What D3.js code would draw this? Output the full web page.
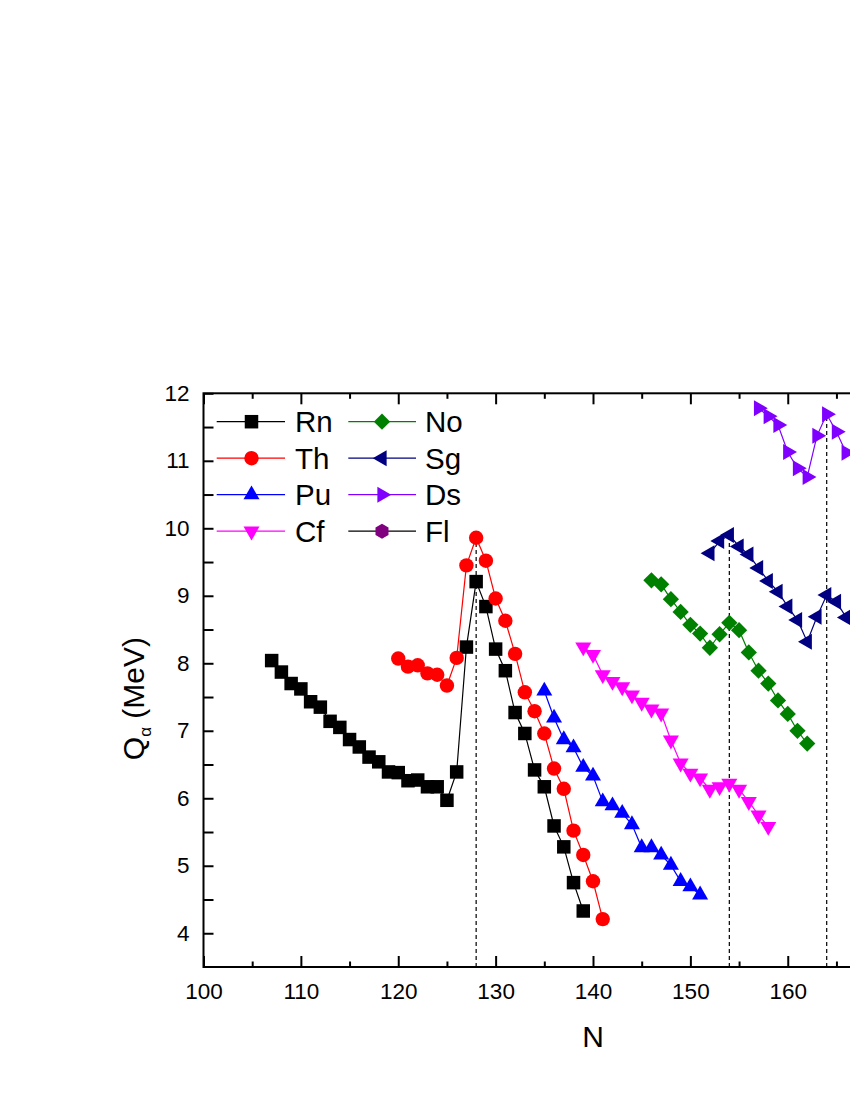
<!DOCTYPE html>
<html>
<head>
<meta charset="utf-8">
<script src="https://cdn.jsdelivr.net/npm/d3@7"></script>
<style>
  html, body { margin: 0; padding: 0; background: #fff; }
  svg { display: block; }
  text { font-family: "Liberation Sans", Arial, sans-serif; fill: #000; }
</style>
</head>
<body>
<svg id="chart" width="850" height="1100"></svg>
<script>
// ---------------- data ----------------
const rnN = [107,108,109,110,111,112,113,114,115,116,117,118,119,120,121,122,123,124,125,126,127,128,129,130,131,132,133,134,135,136,137,138,139];
const rnQ = [8.04,7.87,7.70,7.62,7.43,7.35,7.14,7.05,6.87,6.76,6.61,6.54,6.39,6.38,6.26,6.27,6.17,6.17,5.97,6.39,8.24,9.21,8.84,8.21,7.89,7.27,6.96,6.42,6.17,5.59,5.28,4.75,4.33];

const thN = [120,121,122,123,124,125,126,127,128,129,130,131,132,133,134,135,136,137,138,139,140,141];
const thQ = [8.07,7.95,7.97,7.85,7.83,7.67,8.08,9.45,9.86,9.52,8.96,8.63,8.14,7.57,7.29,6.96,6.44,6.14,5.52,5.16,4.77,4.21];

const puN = [135,136,137,138,139,140,141,142,143,144,145,146,147,148,149,150,151];
const puQ = [7.59,7.19,6.87,6.75,6.46,6.33,5.95,5.89,5.78,5.61,5.27,5.27,5.16,5.01,4.77,4.69,4.57];

const cfN = [139,140,141,142,143,144,145,146,147,148,149,150,151,152,153,154,155,156,157,158];
const cfQ = [8.24,8.13,7.83,7.73,7.65,7.53,7.42,7.32,7.26,6.86,6.52,6.37,6.30,6.13,6.17,6.22,6.13,5.95,5.75,5.58];

const noN = [146,147,148,149,150,151,152,153,154,155,156,157,158,159,160,161,162];
const noQ = [9.23,9.17,8.95,8.76,8.57,8.44,8.23,8.43,8.60,8.49,8.16,7.89,7.70,7.45,7.25,7.00,6.81];

const sgN = [152,153,154,155,156,157,158,159,160,161,162,163,164,165,166];
const sgQ = [9.63,9.81,9.90,9.73,9.61,9.41,9.22,9.06,8.84,8.64,8.32,8.69,9.01,8.91,8.68];

const dsN = [157,158,159,160,161,162,163,164,165,166];
const dsQ = [11.78,11.66,11.53,11.13,10.89,10.76,11.37,11.69,11.43,11.12];

const flN = [];
const flQ = [];

const seriesNames = ["Rn","Th","Pu","Cf","No","Sg","Ds","Fl"];
const magicN = [128, 154, 164];

const xTicksMajor = [100,110,120,130,140,150,160];
const xTicksMinor = [105,115,125,135,145,155,165];
const yTicksMajor = [4,5,6,7,8,9,10,11,12];
const yTicksMinor = [4.5,5.5,6.5,7.5,8.5,9.5,10.5,11.5];

// ---------------- styles ----------------
const styles = {
  Rn: {line:"#000000", fill:"#000000", shape:"square"},
  Th: {line:"#FF0000", fill:"#FF0000", shape:"circle"},
  Pu: {line:"#0000FF", fill:"#0000FF", shape:"up"},
  Cf: {line:"#FF00FF", fill:"#FF00FF", shape:"down"},
  No: {line:"#008000", fill:"#008000", shape:"diamond"},
  Sg: {line:"#000080", fill:"#000080", shape:"left"},
  Ds: {line:"#8000FF", fill:"#8000FF", shape:"right"},
  Fl: {line:"#000000", fill:"#800080", shape:"hexagon"}
};

const data = {
  Rn: rnN.map((n,i)=>({n, q:rnQ[i]})),
  Th: thN.map((n,i)=>({n, q:thQ[i]})),
  Pu: puN.map((n,i)=>({n, q:puQ[i]})),
  Cf: cfN.map((n,i)=>({n, q:cfQ[i]})),
  No: noN.map((n,i)=>({n, q:noQ[i]})),
  Sg: sgN.map((n,i)=>({n, q:sgQ[i]})),
  Ds: dsN.map((n,i)=>({n, q:dsQ[i]})),
  Fl: flN.map((n,i)=>({n, q:flQ[i]}))
};

// ---------------- layout ----------------
const svg = d3.select("#chart");
const pLeft = 203.5, pRight = 982.5, pTop = 393.3, pBottom = 967;
const x = d3.scaleLinear().domain([100,180]).range([pLeft,pRight]);
const y = d3.scaleLinear().domain([3.5,12]).range([pBottom,pTop]);

function markerPath(shape) {
  const s = 13.5;
  const t = 16;
  switch (shape) {
    case "square": return d3.symbol(d3.symbolSquare, s*s)();
    case "circle": return d3.symbol(d3.symbolCircle, Math.PI*7.2*7.2)();
    case "diamond": return d3.symbol(d3.symbolSquare, 11.5*11.5)();
    case "up": case "down": case "left": case "right":
      return d3.symbol(d3.symbolTriangle, Math.sqrt(3)/4*t*t)();
    case "hexagon": {
      const r = 7.5, pts = [];
      for (let k=0;k<6;k++){ const a = Math.PI/6 + k*Math.PI/3; pts.push([r*Math.cos(a), r*Math.sin(a)]); }
      return "M" + pts.map(p=>p.join(",")).join("L") + "Z";
    }
  }
}
function markerRot(shape) {
  return {diamond:45, down:180, left:-90, right:90}[shape] || 0;
}

// dashed magic lines
const allPts = Object.values(data).flat();
const gMagic = svg.append("g");
magicN.forEach(m => {
  const topQ = d3.max(allPts.filter(d=>d.n===m), d=>d.q);
  gMagic.append("line")
    .attr("x1", x(m)).attr("x2", x(m))
    .attr("y1", y(3.5)).attr("y2", y(topQ))
    .attr("stroke","#000").attr("stroke-width",1.2)
    .attr("stroke-dasharray","4,3");
});

// series
const lineGen = d3.line().x(d=>x(d.n)).y(d=>y(d.q));
seriesNames.forEach(name => {
  const st = styles[name], pts = data[name];
  const g = svg.append("g");
  g.append("path").datum(pts)
    .attr("d", lineGen).attr("fill","none")
    .attr("stroke", st.line).attr("stroke-width",1.2);
  g.selectAll("path.m").data(pts).join("path")
    .attr("class","m")
    .attr("d", markerPath(st.shape))
    .attr("transform", d=>`translate(${x(d.n)},${y(d.q)}) rotate(${markerRot(st.shape)})`)
    .attr("fill", st.fill);
});

// ---------------- axes / frame ----------------
const axisG = svg.append("g");
axisG.append("rect").attr("x",pLeft).attr("y",pTop)
  .attr("width",pRight-pLeft).attr("height",pBottom-pTop)
  .attr("fill","none").attr("stroke","#000").attr("stroke-width",2);

function styleAxis(g) {
  g.select(".domain").remove();
  g.selectAll(".tick line").attr("stroke-width",2);
  g.selectAll("text").attr("font-size",22.5).attr("font-family","Liberation Sans, Arial, sans-serif");
}

axisG.append("g").attr("transform",`translate(0,${pBottom})`)
  .call(d3.axisBottom(x).tickValues(xTicksMajor).tickSize(-11).tickPadding(16).tickFormat(d3.format("d")))
  .call(styleAxis);
axisG.append("g").attr("transform",`translate(0,${pBottom})`)
  .call(d3.axisBottom(x).tickValues(xTicksMinor).tickSize(-5.5).tickFormat(""))
  .call(styleAxis);
axisG.append("g").attr("transform",`translate(0,${pTop})`)
  .call(d3.axisTop(x).tickValues(xTicksMajor).tickSize(-11).tickFormat(""))
  .call(styleAxis);
axisG.append("g").attr("transform",`translate(0,${pTop})`)
  .call(d3.axisTop(x).tickValues(xTicksMinor).tickSize(-5.5).tickFormat(""))
  .call(styleAxis);
axisG.append("g").attr("transform",`translate(${pLeft},0)`)
  .call(d3.axisLeft(y).tickValues(yTicksMajor).tickSize(-10).tickPadding(14).tickFormat(d3.format("d")))
  .call(styleAxis);
axisG.append("g").attr("transform",`translate(${pLeft},0)`)
  .call(d3.axisLeft(y).tickValues(yTicksMinor).tickSize(-10).tickFormat(""))
  .call(styleAxis);

// axis titles
svg.append("text").attr("x", (pLeft+pRight)/2).attr("y", 1047)
  .attr("text-anchor","middle").attr("font-size",30).text("N");

const yl = svg.append("text")
  .attr("transform","translate(143.5,637) rotate(-90)")
  .attr("text-anchor","end").attr("font-size",30);
yl.append("tspan").text("Q");
yl.append("tspan").attr("font-size",17).attr("dy",7).text("α");
yl.append("tspan").attr("dy",-7).text(" (MeV)");

// ---------------- legend ----------------
const legRows = [421.7, 458.2, 494.7, 531.2];
const legCols = [{x1:216.7, x2:285, m:251.5, t:295}, {x1:348.3, x2:416, m:382, t:425}];
const lg = svg.append("g");
seriesNames.forEach((name,i) => {
  const col = legCols[Math.floor(i/4)], ry = legRows[i%4], st = styles[name];
  lg.append("line").attr("x1",col.x1).attr("x2",col.x2).attr("y1",ry).attr("y2",ry)
    .attr("stroke",st.line).attr("stroke-width",1.2);
  lg.append("path").attr("d", markerPath(st.shape))
    .attr("transform",`translate(${col.m},${ry}) rotate(${markerRot(st.shape)})`)
    .attr("fill",st.fill);
  lg.append("text").attr("x",col.t).attr("y",ry+10.5).attr("font-size",29.5).text(name);
});
</script>
</body>
</html>
